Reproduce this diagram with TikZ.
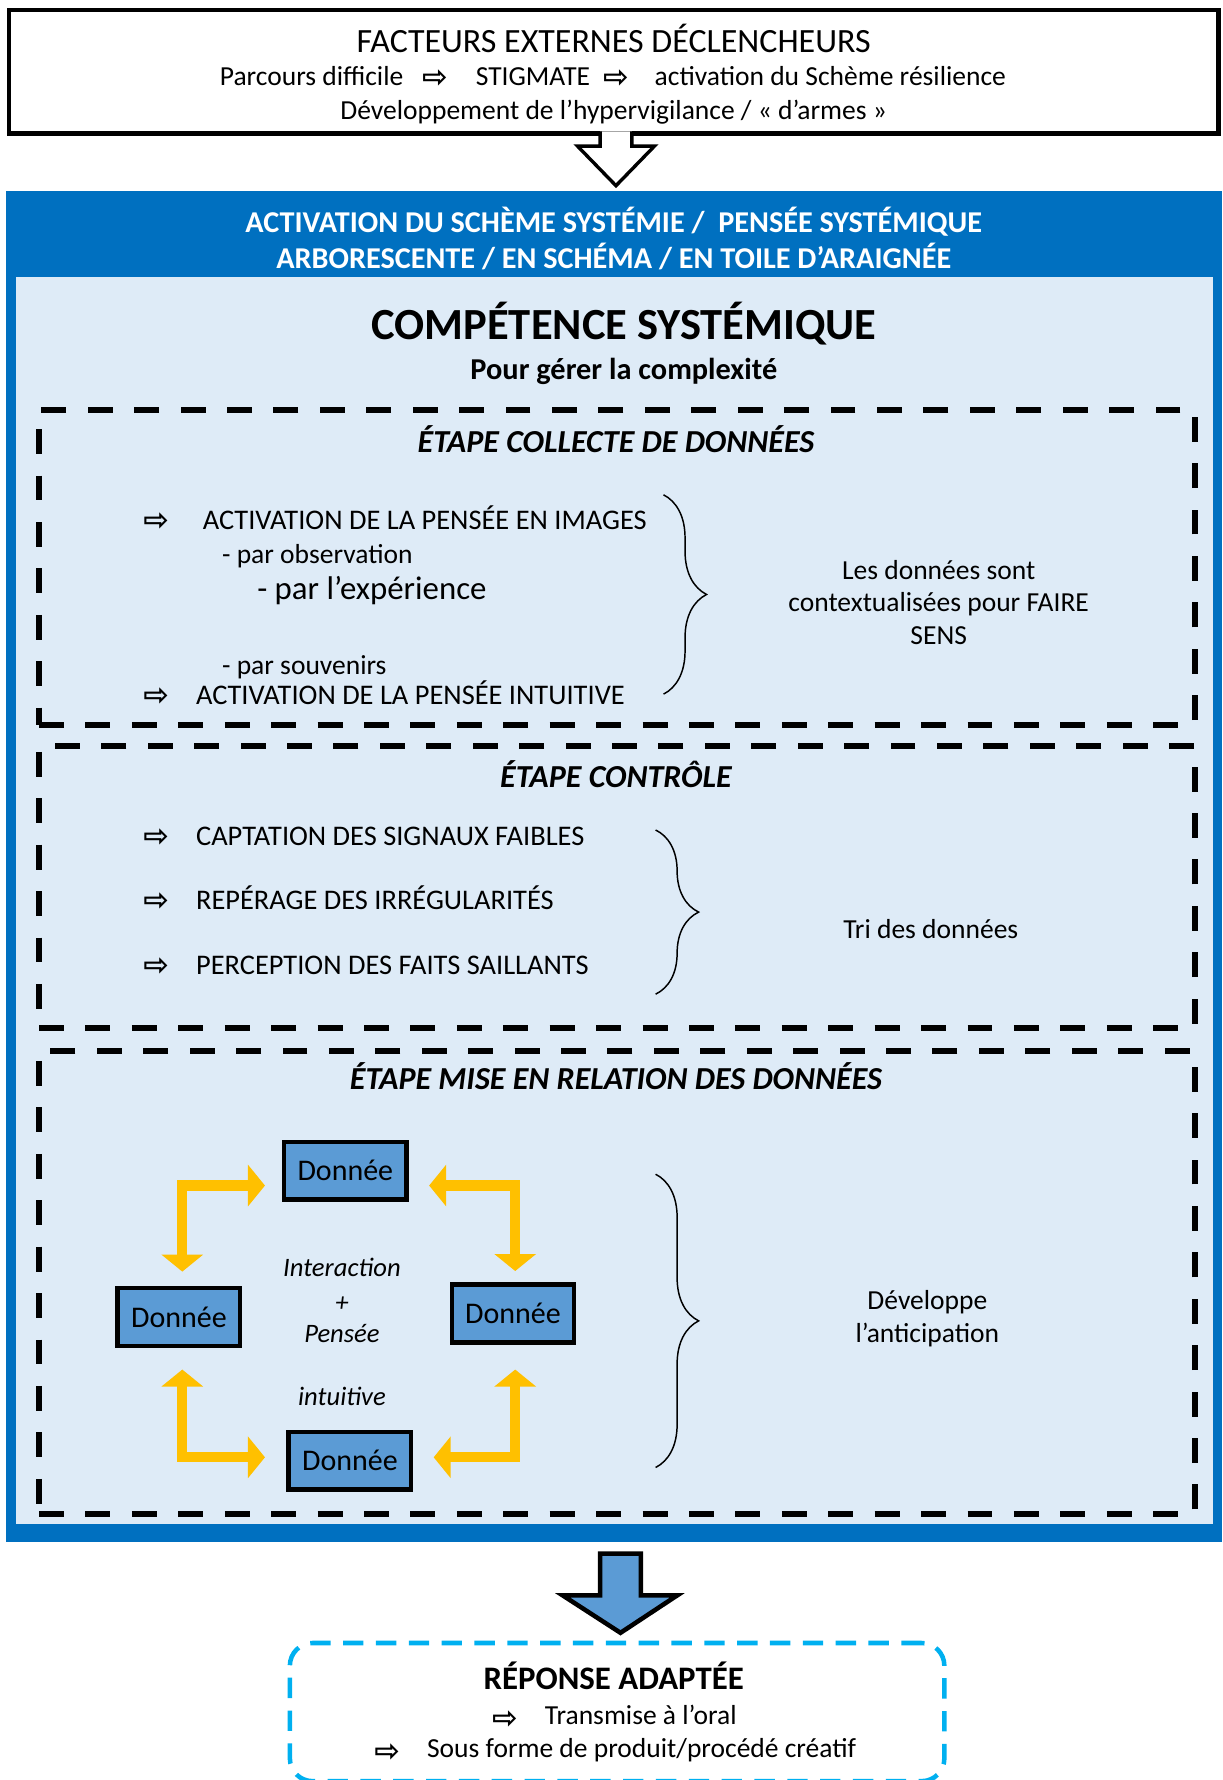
\documentclass[tikz,border=0pt]{standalone}
\usepackage{fontspec}
\setmainfont{Carlito}
\newfontfamily\arrowfont{DejaVu Sans Bold}
\usetikzlibrary{decorations.pathreplacing,arrows.meta}
\definecolor{hdrblue}{HTML}{0070C0}
\definecolor{lightbg}{HTML}{DEEBF7}
\definecolor{boxblue}{HTML}{5B9BD5}
\definecolor{yellowarr}{HTML}{FFC000}
\definecolor{cyanline}{HTML}{00B0F0}
\newcommand{\setfs}[1]{\fontsize{#1pt}{#1pt}\selectfont}
\begin{document}
\begin{tikzpicture}[x=1pt,y=-1pt,
  txt/.style={inner sep=0pt, font=\setfs{24.3}, anchor=mid, yshift=-7pt},
  txtw/.style={inner sep=0pt, font=\setfs{24.3}, anchor=mid west, yshift=-7pt},
  caps/.style={inner sep=0pt, font=\setfs{25.1}, anchor=mid west, yshift=-7pt},
  sym/.style={inner sep=0pt, font=\arrowfont\setfs{27}, anchor=mid, yshift=-9pt},
  stagetitle/.style={inner sep=0pt, font=\bfseries\itshape\setfs{28.3}, anchor=mid, yshift=-8pt},
  stagebox/.style={draw, line width=5pt, dash pattern=on 22pt off 19pt, minimum width=1021pt, inner sep=0pt, outer sep=0pt, anchor=north west},
  donnee/.style={draw, line width=4pt, fill=boxblue, minimum width=108pt, minimum height=51pt, inner sep=0pt, font=\setfs{26.5}},
  yarrow/.style={draw=yellowarr, line width=9pt, line join=miter, {Triangle[width=36pt,length=15pt]}-{Triangle[width=36pt,length=15pt]}},
  curly/.style={decorate, decoration={brace, amplitude=38pt}, line width=1.3pt},
  midtxt/.style={inner sep=0pt, font=\itshape\setfs{23.5}, anchor=mid, yshift=-8pt},
]
\useasboundingbox (0,0) rectangle (1080,1572);
\fill[white] (0,0) rectangle (1080,1572);

% ---- top box
\node[draw, line width=4pt, minimum width=1068pt, minimum height=109pt, inner sep=0pt, outer sep=0pt, anchor=north west] (ext) at (8,9) {};
\node[inner sep=0pt, font=\setfs{30}, anchor=mid, yshift=-8pt] (t1) at (542,36) {FACTEURS EXTERNES DÉCLENCHEURS};
\node[txtw] (p1) at (194,66) {Parcours difficile};
\node[sym] (s1) at (384,66) {⇨};
\node[txtw] (p2) at (420,66) {STIGMATE};
\node[sym] (s2) at (544,66) {⇨};
\node[txtw] (p3) at (578,66) {activation du Schème résilience};
\node[txt] (p4) at (542,96) {Développement de l’hypervigilance / « d’armes »};
\filldraw[fill=white, line width=3pt, line join=miter] (530,116) -- (530,129) -- (510,129) -- (544,164) -- (578,129) -- (558,129) -- (558,116);

% ---- blue frame
\node[fill=hdrblue, minimum width=1074pt, minimum height=1193pt, inner sep=0pt, outer sep=0pt, anchor=north west] (frame) at (5,169) {};
\node[fill=lightbg, minimum width=1057pt, minimum height=1101pt, inner sep=0pt, outer sep=0pt, anchor=north west] (inner) at (14,245) {};
\node[inner sep=0pt, font=\bfseries\setfs{26.7}, text=white, anchor=mid, yshift=-7pt] (h1) at (542,196) {ACTIVATION DU SCHÈME SYSTÉMIE /\ \ PENSÉE SYSTÉMIQUE};
\node[inner sep=0pt, font=\bfseries\setfs{26.7}, text=white, anchor=mid, yshift=-7pt] (h2) at (542,228) {ARBORESCENTE / EN SCHÉMA / EN TOILE D’ARAIGNÉE};
\node[inner sep=0pt, font=\bfseries\setfs{39.3}, anchor=mid, yshift=-11pt] (title) at (551,286) {COMPÉTENCE SYSTÉMIQUE};
\node[inner sep=0pt, font=\bfseries\setfs{26.8}, anchor=mid, yshift=-8pt] (sub) at (551,325) {Pour gérer la complexité};

% ---- stage 1
\node[stagebox, minimum height=278pt] (b1) at (34.5,362) {};
\node[stagetitle] (st1) at (544,389) {ÉTAPE COLLECTE DE DONNÉES};
\node[sym] (a11) at (138,457) {⇨};
\node[caps] (c11) at (179,458) {ACTIVATION DE LA PENSÉE EN IMAGES};
\node[txtw] (c12) at (196,488) {- par observation};
\node[inner sep=0pt, font=\setfs{29}, anchor=mid west, yshift=-8pt] (c13) at (227,519) {- par l’expérience};
\node[txtw] (c14) at (196,586) {- par souvenirs};
\node[sym] (a12) at (138,612) {⇨};
\node[caps] (c15) at (173,613) {ACTIVATION DE LA PENSÉE INTUITIVE};
\draw[curly] (586,437) -- (586,613);
\node[txt] (r11) at (829,502) {Les données sont};
\node[txt] (r12) at (829,531) {contextualisées pour FAIRE};
\node[txt] (r13) at (829,560) {SENS};

% ---- stage 2
\node[stagebox, minimum height=249pt] (b2) at (34.5,659) {};
\node[stagetitle] (st2) at (544,685) {ÉTAPE CONTRÔLE};
\node[sym] (a21) at (138,736) {⇨};
\node[caps] (c21) at (173,737) {CAPTATION DES SIGNAUX FAIBLES};
\node[sym] (a22) at (138,793) {⇨};
\node[caps] (c22) at (173,794) {REPÉRAGE DES IRRÉGULARITÉS};
\node[sym] (a23) at (138,850) {⇨};
\node[caps] (c23) at (173,851) {PERCEPTION DES FAITS SAILLANTS};
\draw[curly] (579,733) -- (579,878);
\node[txt] (r21) at (822,819) {Tri des données};

% ---- stage 3
\node[stagebox, minimum height=409pt] (b3) at (34.5,928) {};
\node[stagetitle] (st3) at (544,952) {ÉTAPE MISE EN RELATION DES DONNÉES};
\node[donnee] (d1) at (305,1034) {Donnée};
\node[donnee] (d2) at (158,1163) {Donnée};
\node[donnee] (d3) at (453,1160) {Donnée};
\node[donnee] (d4) at (309,1290) {Donnée};
\draw[yarrow] ([xshift=-15pt,yshift=-13pt]d1.west) -| ([xshift=3pt,yshift=12.5pt]d2.north);
\draw[yarrow] ([xshift=18pt,yshift=-13pt]d1.east) -| ([xshift=2pt,yshift=10pt]d3.north);
\draw[yarrow] ([xshift=3pt,yshift=-19pt]d2.south) |- ([xshift=-19pt,yshift=3pt]d4.west);
\draw[yarrow] ([xshift=2pt,yshift=-22pt]d3.south) |- ([xshift=18pt,yshift=3pt]d4.east);
\node[midtxt] (m1) at (302,1117) {Interaction};
\node[midtxt] (m2) at (302,1148) {+};
\node[midtxt] (m3) at (302,1175) {Pensée};
\node[midtxt] (m4) at (302,1231) {intuitive};
\draw[curly] (579,1037) -- (579,1296);
\node[txt] (r31) at (819,1147) {Développe};
\node[txt] (r32) at (819,1176) {l’anticipation};

% ---- bottom arrow
\filldraw[fill=boxblue, line width=4pt, line join=miter] (530,1372) -- (566,1372) -- (566,1409) -- (598,1409) -- (548,1442) -- (497,1409) -- (530,1409) -- cycle;

% ---- response box
\node[draw=cyanline, line width=4pt, dash pattern=on 18pt off 11pt, rounded corners=20pt, minimum width=578pt, minimum height=122pt, inner sep=0pt, outer sep=0pt, anchor=north west] (resp) at (256,1451) {};
\node[inner sep=0pt, font=\bfseries\setfs{29}, anchor=mid, yshift=-10pt] (rt) at (542,1480) {RÉPONSE ADAPTÉE};
\node[sym, yshift=-3pt] (ra1) at (446,1512) {⇨};
\node[txtw, yshift=-2pt] (rl1) at (481,1512) {Transmise à l’oral};
\node[sym, yshift=-3pt] (ra2) at (342,1541) {⇨};
\node[txtw, yshift=-2pt] (rl2) at (377,1541) {Sous forme de produit/procédé créatif};
\end{tikzpicture}
\end{document}
